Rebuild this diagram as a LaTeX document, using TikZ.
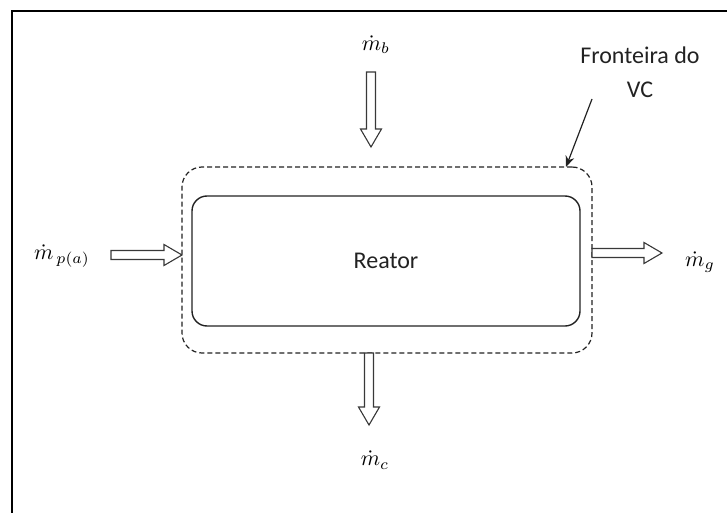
\documentclass[tikz,border=0pt]{standalone}
\usepackage{fontspec}
\setmainfont{Carlito}
\usetikzlibrary{arrows.meta}
\definecolor{ink}{HTML}{222222}
\tikzset{
  blockline/.style={draw=ink!90, line width=1.1pt, fill=white},
  boxline/.style={draw=ink, line width=1.4pt},
  txt/.style={text=ink, font=\fontsize{24}{34}\selectfont, inner sep=0pt},
  mathlbl/.style={text=black, inner sep=0pt, scale=2.2},
  pics/hollow/.style={code={
    \path[blockline] (0,4.5) -- (#1-18,4.5) -- (#1-18,10.5) -- (#1,0) -- (#1-18,-10.5) -- (#1-18,-4.5) -- (0,-4.5) -- cycle;
  }}
}
\begin{document}
\begin{tikzpicture}[x=1pt,y=-1pt]
\useasboundingbox (0,0) rectangle (727,513);
% outer frame (only left and top visible)
\draw[line width=2.2pt, black] (12,513) -- (12,11) -- (727,11);
% control volume (dashed)
\node[draw=ink, dashed, dash pattern=on 5pt off 3pt, line width=1.2pt, rounded corners=20pt,
      minimum width=410pt, minimum height=186pt, inner sep=0pt] (vc) at (387,260) {};
% reactor
\node[boxline, rounded corners=15pt, minimum width=388pt, minimum height=130pt, txt] (reator) at (386,261) {Reator};
% block arrows
\pic at (111,255) {hollow=71};
\pic at (592,253) {hollow=70};
\pic[rotate=-90] at (371,72) {hollow=75};
\pic[rotate=-90] at (369,353) {hollow=72};
% labels
\node[mathlbl] (mb) at (376,45) {$\dot{m}_{b}$};
\node[mathlbl] (mpa) at (62,256) {$\dot{m}_{\,p(a)}$};
\node[mathlbl] (mg) at (700,262) {$\dot{m}_{g}$};
\node[mathlbl] (mc) at (375,460) {$\dot{m}_{c}$};
\node[txt, align=center] (front) at (640,72) {Fronteira do\\VC};
% pointer to the boundary
\coordinate (ptr) at (592,99);
\coordinate (tip) at (566,167);
\draw[ink, line width=1.2pt, -{Stealth[length=11pt,width=9pt]}] (ptr) -- (tip);
\end{tikzpicture}
\end{document}
